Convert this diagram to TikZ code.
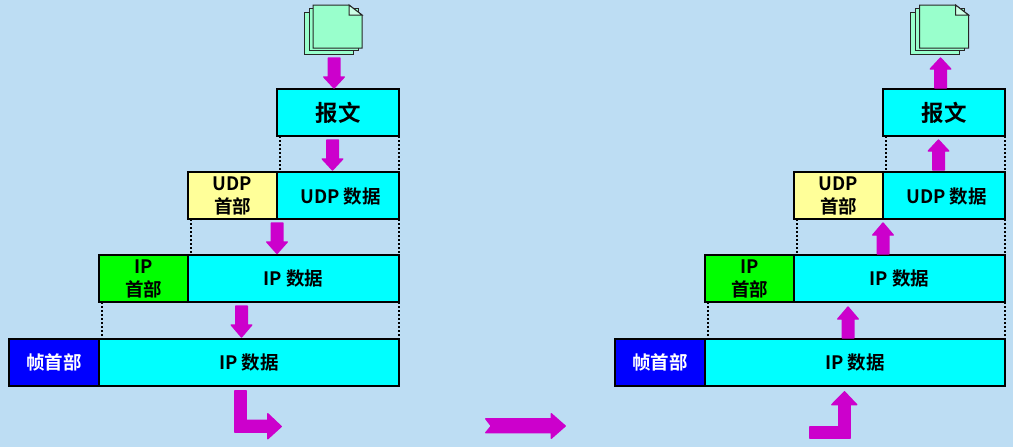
\documentclass[tikz,border=0pt]{standalone}
\usepackage{fontspec}
\setmainfont{Noto Sans CJK SC}[BoldFont={Noto Sans CJK SC Bold}]
\definecolor{bgc}{HTML}{BDDDF3}
\definecolor{arrowc}{HTML}{CC00CC}
\definecolor{sheetc}{HTML}{99FFCC}
\definecolor{foldc}{HTML}{CCFFE6}
\definecolor{hdry}{HTML}{FFFF99}
\definecolor{datac}{HTML}{00FFFF}
\definecolor{hdrg}{HTML}{00FF00}
\definecolor{hdrb}{HTML}{0000FF}
\tikzset{
  seg/.style={draw=black,line width=2.2pt,inner sep=0pt,outer sep=0pt,anchor=north west,
    minimum height=47pt,align=center,font=\bfseries\fontsize{18.5}{23}\selectfont,text=black},
  data/.style={seg,fill=datac},
  msgbox/.style={seg,fill=datac,font=\bfseries\fontsize{22.5}{26}\selectfont},
  udphdr/.style={seg,fill=hdry},
  iphdr/.style={seg,fill=hdrg},
  framehdr/.style={seg,fill=hdrb,text=white},
  guide/.style={draw=black,line width=1.5pt,dash pattern=on 2pt off 2pt},
  blockarrow/.style={fill=arrowc,draw=arrowc,line width=1.4pt,line join=round},
  sheet/.style={draw=black!85,line width=1pt,fill=sheetc,line join=miter},
}
% vertical block arrows: centre x, tail y, tip y, head base y
\newcommand{\vblock}[4]{\path[blockarrow] (#1-5.8,#2) -- (#1+5.8,#2) -- (#1+5.8,#4) -- (#1+10.2,#4) -- (#1,#3) -- (#1-10.2,#4) -- (#1-5.8,#4) -- cycle;}
\newcommand{\docstack}[2]{%
  \begin{scope}[shift={(#1,#2)}]
    \draw[sheet] (0,7) -- (0,49) -- (49,49) -- (49,7) -- cycle;
    \draw[sheet] (5,3) -- (5,45) -- (54,45) -- (54,3) -- cycle;
    \draw[sheet] (9,0) -- (45,0) -- (58,10) -- (58,43) -- (9,43) -- cycle;
    \draw[sheet,fill=foldc] (45,0) -- (45,10) -- (58,10) -- cycle;
  \end{scope}}
\begin{document}
\begin{tikzpicture}[x=1pt,y=-1pt]
\useasboundingbox[fill=bgc] (0,0) rectangle (1013,447);
% left stack
\node[msgbox,minimum width=122pt] (msgL) at (277,89) {报文};
\node[udphdr,minimum width=89pt] (udphL) at (188,172) {UDP\\首部};
\node[data,minimum width=122pt,text depth=0pt] (udpdL) at (277,172) {\hspace{5pt}UDP 数据};
\node[iphdr,minimum width=89pt] (iphL) at (99,255) {IP\\首部};
\node[data,minimum width=211pt] (ipdL) at (188,255) {IP 数据};
\node[framehdr,minimum width=90pt] (frhL) at (9,339) {帧首部};
\node[data,minimum width=300pt] (frdL) at (99,339) {IP 数据};
% right stack
\node[msgbox,minimum width=122pt] (msgR) at (883,89) {报文};
\node[udphdr,minimum width=89pt] (udphR) at (794,172) {UDP\\首部};
\node[data,minimum width=122pt,text depth=0pt] (udpdR) at (883,172) {\hspace{5pt}UDP 数据};
\node[iphdr,minimum width=89pt] (iphR) at (705,255) {IP\\首部};
\node[data,minimum width=211pt] (ipdR) at (794,255) {IP 数据};
\node[framehdr,minimum width=90pt] (frhR) at (615,339) {帧首部};
\node[data,minimum width=300pt] (frdR) at (705,339) {IP 数据};
% dotted guides
\foreach \s in {L,R}{
  \draw[guide] ([xshift=3pt]msg\s.south west) -- ([xshift=3pt]udpd\s.north west);
  \draw[guide] (msg\s.south east) -- (udpd\s.north east);
  \draw[guide] ([xshift=3pt]udph\s.south west) -- ([xshift=3pt]iph\s.north east);
  \draw[guide] (udpd\s.south east) -- (ipd\s.north east);
  \draw[guide] ([xshift=3pt]iph\s.south west) -- ([xshift=3pt]frd\s.north west);
  \draw[guide] (ipd\s.south east) -- (frd\s.north east);
}
% documents
\docstack{304}{5}
\docstack{910.5}{5}
% down arrows
\vblock{334}{58}{88}{77}
\vblock{332.5}{140}{170}{159}
\vblock{277}{223}{253.5}{242}
\vblock{241.5}{306}{337}{325}
% up arrows
\vblock{940.5}{88}{58}{69}
\vblock{938.5}{170}{140}{151}
\vblock{883}{254}{223}{235}
\vblock{848}{338}{307}{319}
% bent and horizontal arrows
\path[blockarrow] (234.8,390.8) -- (246.2,390.8) -- (246.2,420.3) -- (267.8,420.3) -- (267.8,413.8) -- (281.2,426.5) -- (267.8,438.7) -- (267.8,432.2) -- (234.8,432.2) -- cycle;
\path[blockarrow] (485.8,418.8) -- (551.3,418.8) -- (551.3,413.8) -- (565.2,426) -- (551.3,438.2) -- (551.3,432.7) -- (485.8,432.7) -- (491.3,426) -- cycle;
\path[blockarrow] (809.8,426.8) -- (838.8,426.8) -- (838.8,404.7) -- (831.8,404.7) -- (844.5,391.8) -- (856.7,404.7) -- (850.2,404.7) -- (850.2,438.2) -- (809.8,438.2) -- cycle;
\end{tikzpicture}
\end{document}
